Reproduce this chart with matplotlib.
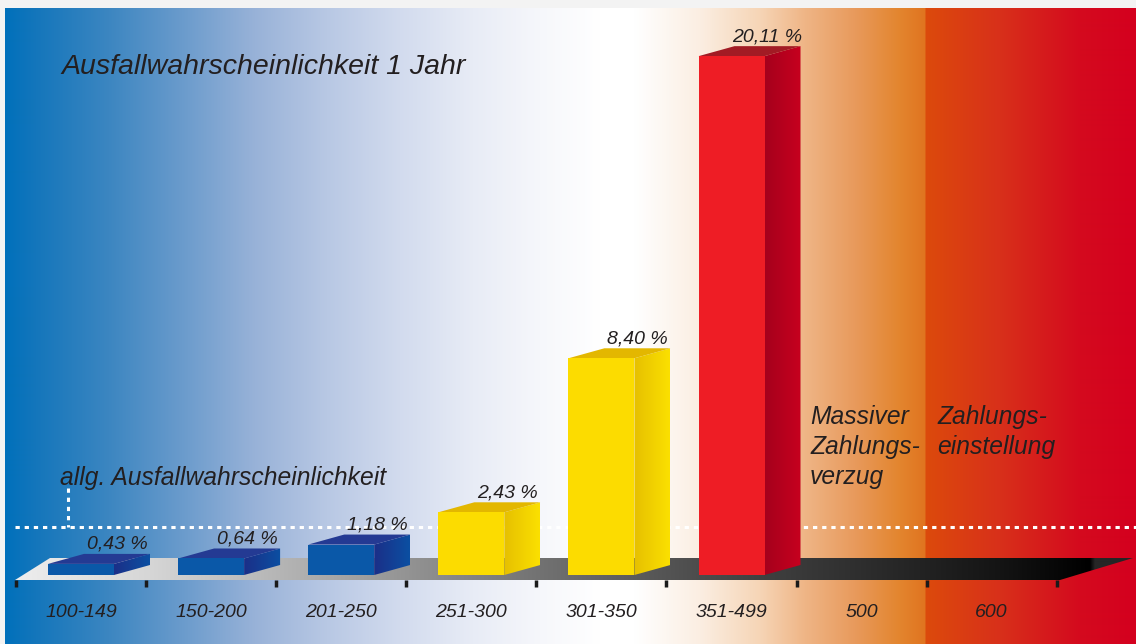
import numpy as np
import matplotlib
matplotlib.use('Agg')
import matplotlib.pyplot as plt
from matplotlib.patches import Polygon
from matplotlib.colors import to_rgb

# ---------------- data ----------------
categories = ['100-149', '150-200', '201-250', '251-300', '301-350', '351-499', '500', '600']
values = [0.43, 0.64, 1.18, 2.43, 8.40, 20.11]
value_labels = ['0,43 %', '0,64 %', '1,18 %', '2,43 %', '8,40 %', '20,11 %']
bar_groups = ['blue', 'blue', 'blue', 'yellow', 'yellow', 'red']
general_rate = 1.86
title = 'Ausfallwahrscheinlichkeit 1 Jahr'
general_label = 'allg. Ausfallwahrscheinlichkeit'
zone_labels = [['Massiver', 'Zahlungs-', 'verzug'], ['Zahlungs-', 'einstellung']]

# ---------------- styles ----------------
FONT = ['Liberation Sans Narrow', 'Liberation Sans', 'DejaVu Sans']
TXT = '#231f20'
bar_colors = {
    'blue':   dict(front='#0a58a8', top='#243a93', side=('#1b2f88', '#0b4fa2')),
    'yellow': dict(front='#fcdc00', top='#e3b700', side=('#e6c000', '#fbe000')),
    'red':    dict(front='#ee1d25', top='#a21b24', side=('#a6001c', '#c6001f')),
}

W, H = 1136, 644
fig = plt.figure(figsize=(W / 100, H / 100), dpi=100, facecolor='#f3f3f3')
ax = fig.add_axes([0, 0, 1, 1])
ax.axis('off')

UX = 130.1   # pixels per category
UY = 25.8    # pixels per percent
X0, Y0 = 81, 575


def px(x):
    return (x - X0) / UX


def py(y):
    return (Y0 - y) / UY


def gradient(stops, p0, p1):
    pos = [s[0] for s in stops]
    cols = np.array([to_rgb(s[1]) for s in stops])
    xs = np.arange(p0, p1) + 0.5
    arr = np.stack([np.interp(xs, pos, cols[:, k]) for k in range(3)], axis=-1)
    return arr[None, :, :]


# background
bg_stops = [(5, '#0070bb'), (36, '#1476bb'), (109, '#3c86c1'), (182, '#6a9bcc'),
            (255, '#98b2d8'), (327, '#b8c8e4'), (400, '#d2dbee'), (473, '#e8ecf6'),
            (540, '#f6f7fb'), (600, '#ffffff'), (635, '#ffffff'), (700, '#fbeee2'),
            (760, '#f6d5b6'), (805, '#efb586'), (855, '#e89a5c'), (900, '#e3852e'),
            (925, '#e07420'), (926, '#dc4a0c'), (1000, '#d8301a'), (1080, '#d40a1e'),
            (1136, '#d4001e')]
ax.imshow(gradient(bg_stops, 5, W), extent=[px(5), px(W), py(H), py(8)],
          aspect='auto', zorder=0, interpolation='bilinear')

# floor
floor_pts = [(px(15), py(580)), (px(1060), py(580)), (px(1133), py(558)), (px(50), py(558))]
floor = Polygon(floor_pts, closed=True, facecolor='none', edgecolor='none', zorder=2)
ax.add_patch(floor)
floor_stops = [(15, '#eeeeee'), (150, '#d6d6d6'), (300, '#b0b0b0'), (420, '#909090'),
               (540, '#727272'), (700, '#4c4c4c'), (850, '#303030'), (1000, '#141414'),
               (1090, '#000000'), (1095, '#262626'), (1136, '#262626')]
fim = ax.imshow(gradient(floor_stops, 15, W), extent=[px(15), px(W), py(580), py(558)],
                aspect='auto', zorder=2, interpolation='bilinear')
fim.set_clip_path(floor)

# ticks at category boundaries
ticks = np.arange(len(categories) + 1) - 0.5
ax.vlines(ticks, py(587), py(580), color='#1a1a1a', lw=2.5, zorder=3)

# general rate dotted lines
ax.plot([px(15), px(W)], [general_rate, general_rate], color='white', lw=2.2,
        ls=(0, (1.4, 1.6)), zorder=3)
ax.plot([px(68), px(68)], [py(488), general_rate], color='white', lw=2.2,
        ls=(0, (1.4, 1.6)), zorder=3)

# bars
half = 33 / UX
dx, dy = 36 / UX, 10 / UY
for i, (v, g, lab) in enumerate(zip(values, bar_groups, value_labels)):
    c = bar_colors[g]
    xl, xr = i - half, i + half
    side = Polygon([(xr, 0), (xr + dx, dy), (xr + dx, v + dy), (xr, v)], closed=True,
                   facecolor='none', edgecolor='none', zorder=4)
    ax.add_patch(side)
    s0, s1 = to_rgb(c['side'][0]), to_rgb(c['side'][1])
    sarr = np.linspace(0, 1, 40)[:, None] * (np.array(s1) - np.array(s0)) + np.array(s0)
    sim = ax.imshow(sarr[None, :, :], extent=[xr, xr + dx, 0, v + dy], aspect='auto',
                    zorder=4, interpolation='bilinear')
    sim.set_clip_path(side)
    ax.add_patch(Polygon([(xl, v), (xr, v), (xr + dx, v + dy), (xl + dx, v + dy)],
                         closed=True, facecolor=c['top'], edgecolor='none', zorder=5))
    ax.add_patch(Polygon([(xl, 0), (xr, 0), (xr, v), (xl, v)], closed=True,
                         facecolor=c['front'], edgecolor='none', zorder=6))
    ax.text(i + dx, v + dy + 5 / UY, lab, ha='center', va='baseline', fontsize=14,
            style='italic', family=FONT, color=TXT, zorder=7)

# category labels
for i, cat in enumerate(categories):
    ax.text(i, py(617), cat, ha='center', va='baseline', fontsize=14,
            style='italic', family=FONT, color=TXT, zorder=7)

# titles / annotations
ax.text(px(61), py(74), title, ha='left', va='baseline', fontsize=20.5,
        style='italic', family=FONT, color=TXT, zorder=7)
ax.text(px(60), py(485), general_label, ha='left', va='baseline', fontsize=17.7,
        style='italic', family=FONT, color=TXT, zorder=7)
for x0, lines in zip([810, 937], zone_labels):
    for k, line in enumerate(lines):
        ax.text(px(x0), py(424 + 30 * k), line, ha='left', va='baseline', fontsize=17.7,
                style='italic', family=FONT, color=TXT, zorder=7)

ax.set_xlim(px(0), px(W))
ax.set_ylim(py(H), py(0))
fig.savefig('out.png', dpi=100, facecolor=fig.get_facecolor())
